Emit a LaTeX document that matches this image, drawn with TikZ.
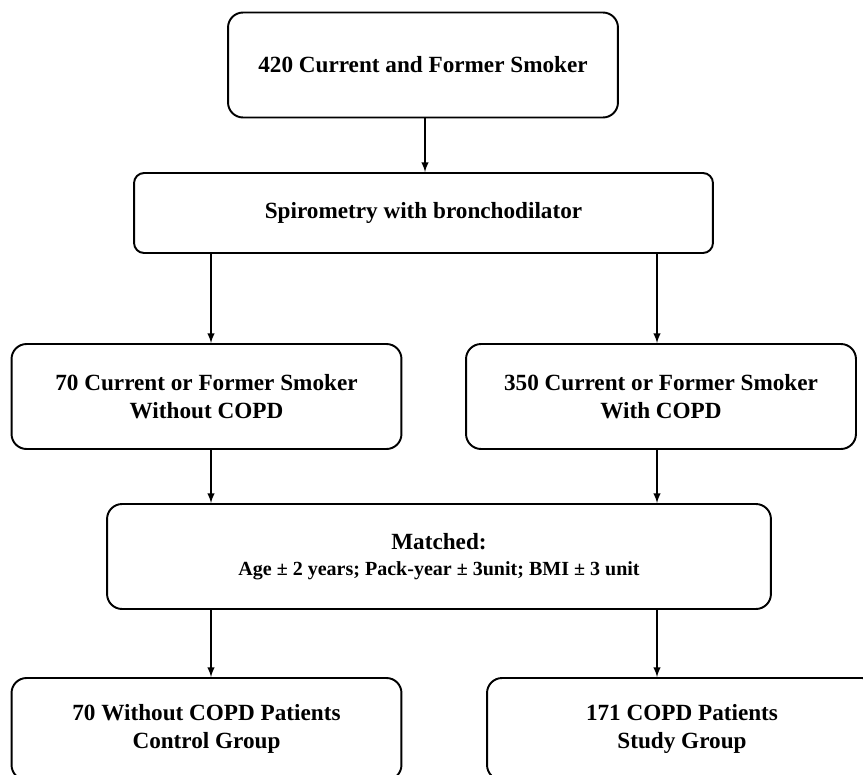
\documentclass[tikz,border=0pt]{standalone}
\usepackage{amsmath,amssymb}
\usepackage{fontspec}
\setmainfont{Liberation Serif}
\usepackage{tikz}
\usetikzlibrary{arrows}
\usetikzlibrary{shapes}
\usetikzlibrary{positioning}

\begin{document}
\begin{tikzpicture}[x=0.02cm,y=-0.02cm,
        every node/.style={draw,rectangle,rounded corners=0.3cm,line width=1.1pt,
            align=center,inner sep=0pt,font=\fontsize{13.2}{15.9}\selectfont\bfseries},
        narrowbox/.style={minimum width=7.8cm,minimum height=2.1cm},
        widebox/.style={minimum width=11.58cm,minimum height=1.6cm,rounded corners=0.2cm},
        matchbox/.style={minimum width=13.28cm,minimum height=2.1cm},
        flow/.style={-latex,line width=0.9pt}]

    \path[use as bounding box,clip] (0,0) rectangle (863,775);

    % boxes
    \node[narrowbox] (smokers) at (423,65) {420 Current and Former Smoker};
    \node[widebox] (spiro) at (423.5,213) {Spirometry with bronchodilator};
    \node[narrowbox] (nocopd) at (206.5,396.5) {70 Current or Former Smoker\\Without COPD};
    \node[narrowbox] (copd) at (661,396.5) {350 Current or Former Smoker\\With COPD};
    \node[matchbox] (matched) at (439,556.5) {Matched:\\[-1pt]
        {\fontsize{11.4}{13}\selectfont Age ± 2 years; Pack-year ± 3unit; BMI ± 3 unit}};
    \node[narrowbox,minimum height=2.04cm] (control) at (206.5,729) {70 Without COPD Patients\\Control Group};
    \node[narrowbox,minimum height=2.04cm] (study) at (682,729) {171 COPD Patients\\Study Group};

    % arrow columns
    \coordinate (colL) at (211,0);
    \coordinate (colR) at (657,0);
    \coordinate (colM) at (425,0);

    \draw[flow] (smokers.south -| colM) -- (spiro.north -| colM);
    \draw[flow] (spiro.south -| colL) -- (nocopd.north -| colL);
    \draw[flow] (spiro.south -| colR) -- (copd.north -| colR);
    \draw[flow] (nocopd.south -| colL) -- (matched.north -| colL);
    \draw[flow] (copd.south -| colR) -- (matched.north -| colR);
    \draw[flow] (matched.south -| colL) -- (control.north -| colL);
    \draw[flow] (matched.south -| colR) -- (study.north -| colR);
\end{tikzpicture}
\end{document}
